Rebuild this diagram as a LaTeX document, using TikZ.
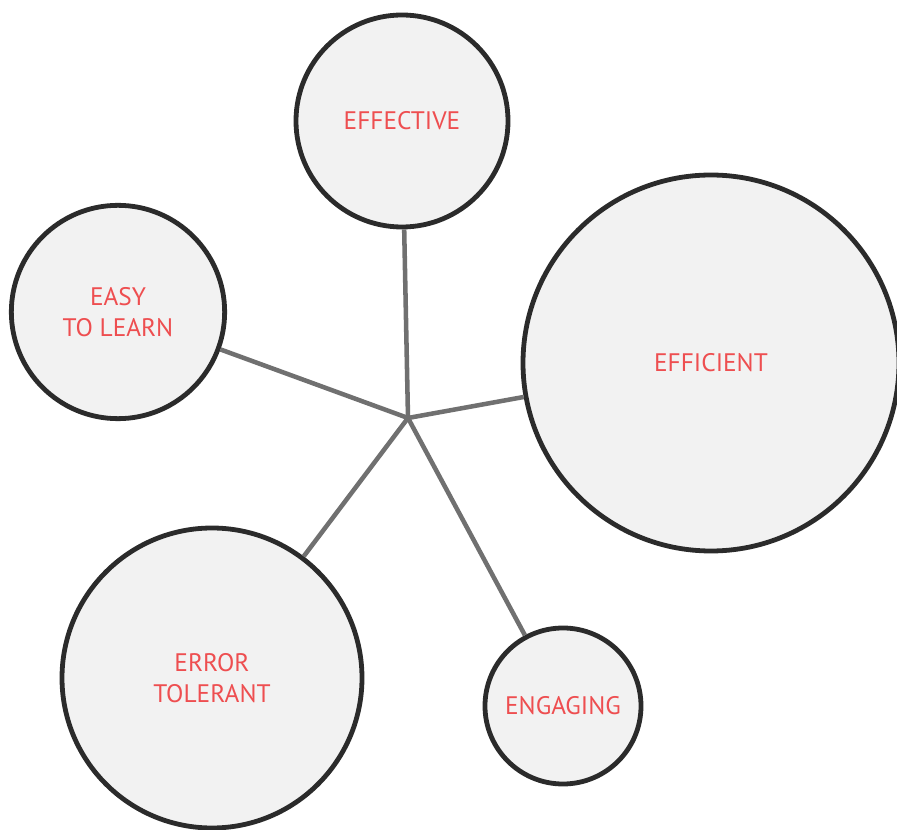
\documentclass[tikz,border=0pt]{standalone}
\usepackage{fontspec}
\setmainfont{PT Sans}
\definecolor{ringgray}{HTML}{2B2B2B}
\definecolor{spokegray}{HTML}{707070}
\definecolor{bubblefill}{HTML}{F2F2F2}
\definecolor{labelred}{HTML}{EE4E50}
\tikzset{
  bubble/.style={circle, draw=ringgray, fill=bubblefill, line width=3.6pt,
    text=labelred, align=center, font=\fontsize{19}{23.5}\selectfont, inner sep=0pt},
  spoke/.style={draw=spokegray, line width=3.4pt}
}
\begin{document}
\begin{tikzpicture}[x=0.75pt,y=-0.75pt]
  \useasboundingbox (0,0) rectangle (897,830);
  \coordinate (hub) at (408,418);
  % the five bubbles
  \node[bubble, minimum size=159pt] (effective) at (402,121) {EFFECTIVE};
  \node[bubble, minimum size=160pt] (easy) at (118,312) {EASY\\TO LEARN};
  \node[bubble, minimum size=282pt] (efficient) at (711,363) {EFFICIENT};
  \node[bubble, minimum size=225pt] (error) at (212,678) {ERROR\\TOLERANT};
  \node[bubble, minimum size=117pt] (engaging) at (563,706) {ENGAGING};
  % spokes from the hub
  \foreach \n in {effective,easy,efficient,error,engaging}
    \draw[spoke] (hub) -- (\n);
\end{tikzpicture}
\end{document}
